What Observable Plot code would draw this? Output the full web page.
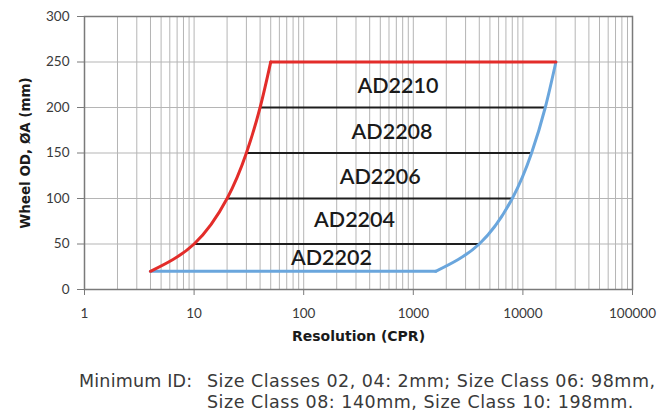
<!DOCTYPE html>
<html>
<head>
<meta charset="utf-8">
<script src="https://cdn.jsdelivr.net/npm/d3@7"></script>
<script src="https://cdn.jsdelivr.net/npm/@observablehq/plot@0.6"></script>
<style>
  body { margin: 0; background: #fff; font-family: Lato, "Noto Sans", sans-serif; }
  #chart svg { display: block; }
  .caption { position: relative; height: 64px; font-family: "DejaVu Sans", sans-serif; font-size: 17.5px; letter-spacing: 0.5px; color: #3a3a3a; line-height: 21px; }
  .caption .lab { position: absolute; left: 79px; top: 21px; letter-spacing: 0.2px; }
  .caption .txt { position: absolute; left: 207px; top: 21px; white-space: nowrap; }
</style>
</head>
<body>
<div id="chart"></div>
<div class="caption">
  <span class="lab">Minimum ID:</span>
  <span class="txt">Size Classes 02, 04: 2mm; Size Class 06: 98mm,<br>Size Class 08: 140mm, Size Class 10: 198mm.</span>
</div>
<script>
// ---- data ----
const xTicks = [1, 10, 100, 1000, 10000, 100000];
const yTicks = [0, 50, 100, 150, 200, 250, 300];
const decades = [1, 10, 100, 1000, 10000];
const multipliers = [1, 2, 3, 4, 5, 6, 7, 8, 9];

// red boundary (minimum resolution per wheel OD)
const redCurveCPR = [4, 10, 20, 30, 40, 50];
const redCurveOD = [20, 50, 100, 150, 200, 250];
const redTopCPR = [50, 20000];
const redTopOD = [250, 250];

// blue boundary (maximum resolution per wheel OD)
const blueBaseCPR = [4, 1600];
const blueBaseOD = [20, 20];
const blueCurveCPR = [1600, 4000, 8000, 12000, 16000, 20000];
const blueCurveOD = [20, 50, 100, 150, 200, 250];

// black dividers between size classes
const dividerOD = [50, 100, 150, 200];
const dividerFrom = [10, 20, 30, 40];
const dividerTo = [4000, 8000, 12000, 16000];

// model labels
const models = ["AD2202", "AD2204", "AD2206", "AD2208", "AD2210"];
const modelX = [179, 291, 499, 640, 725];
const modelY = [34, 76, 124, 173, 224];

// ---- build tables ----
const gridX = decades.flatMap(d => multipliers.map(m => d * m)).concat([100000]);
const pts = (xs, ys) => xs.map((x, i) => ({x, y: ys[i]}));
const dividers = dividerOD.map((y, i) => ({y, x1: dividerFrom[i], x2: dividerTo[i]}));
const labels = models.map((m, i) => ({m, x: modelX[i], y: modelY[i]}));

const RED = "#e32d2a";
const BLUE = "#6aa6dd";
const GRID = "#b5b5b5";
const FONT = "Lato, 'Noto Sans', sans-serif";
const TITLEFONT = "'DejaVu Sans', sans-serif";

const chart = Plot.plot({
  width: 663,
  height: 350,
  marginLeft: 84,
  marginRight: 31,
  marginTop: 16,
  marginBottom: 61,
  style: {fontFamily: FONT, background: "white"},
  x: {type: "log", domain: [1, 100000]},
  y: {domain: [0, 300]},
  marks: [
    Plot.ruleX(gridX, {stroke: GRID, strokeWidth: 1}),
    Plot.ruleY(yTicks, {stroke: GRID, strokeWidth: 1}),
    Plot.frame({stroke: "#7a7a7a", strokeWidth: 1.5}),
    Plot.axisX(xTicks, {tickFormat: d => String(d), tickSize: 6, tickPadding: 13, fontSize: 13.5, fill: "#3a3a3a", stroke: "#7a7a7a", label: null}),
    Plot.axisY(yTicks, {tickSize: 7, tickPadding: 8, fontSize: 13.5, fill: "#3a3a3a", stroke: "#7a7a7a", label: null}),
    Plot.ruleY(dividers, {y: "y", x1: "x1", x2: "x2", stroke: "#1e1e1e", strokeWidth: 2}),
    Plot.line(pts(blueBaseCPR, blueBaseOD), {x: "x", y: "y", stroke: BLUE, strokeWidth: 3}),
    Plot.line(pts(blueCurveCPR, blueCurveOD), {x: "x", y: "y", stroke: BLUE, strokeWidth: 3, curve: "natural"}),
    Plot.line(pts(redCurveCPR, redCurveOD), {x: "x", y: "y", stroke: RED, strokeWidth: 3, curve: "natural"}),
    Plot.line(pts(redTopCPR, redTopOD), {x: "x", y: "y", stroke: RED, strokeWidth: 3}),
    Plot.text(labels, {x: "x", y: "y", text: "m", fontSize: 21.5, fontWeight: 600, fill: "#1a1a1a", fontFamily: FONT}),
    Plot.text(["Wheel OD, ØA (mm)"], {frameAnchor: "left", textAnchor: "middle", dx: -59, rotate: -90, fontSize: 13.5, fontWeight: 700, fill: "#1a1a1a", fontFamily: TITLEFONT}),
    Plot.text(["Resolution (CPR)"], {frameAnchor: "bottom", dy: 51, fontSize: 14, fontWeight: 700, fill: "#1a1a1a", fontFamily: TITLEFONT})
  ]
});
document.getElementById("chart").appendChild(chart);
</script>
</body>
</html>
